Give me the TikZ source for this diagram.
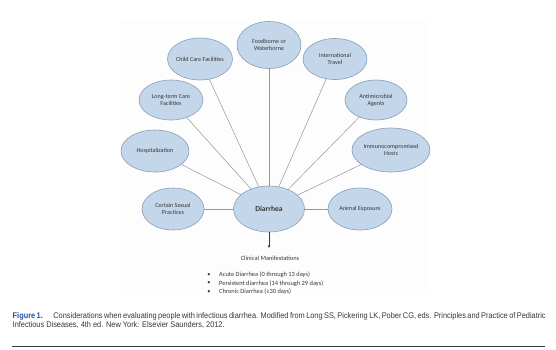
\documentclass[tikz,border=0pt]{standalone}
\usepackage{fontspec}
\setmainfont{Carlito}
\newfontfamily\capfont[FakeStretch=0.9]{Liberation Sans}
\usepackage{tikz}
\usetikzlibrary{arrows.meta,positioning,shapes.geometric}
\usepackage{xcolor}
\definecolor{ink}{RGB}{55,55,55}
\definecolor{bubfill}{RGB}{196,215,234}
\definecolor{bubline}{RGB}{135,158,185}
\definecolor{spokeC}{RGB}{150,150,150}
\definecolor{panel}{RGB}{253,253,253}
\definecolor{figblue}{RGB}{35,80,165}
\tikzset{
  bub/.style={ellipse,draw=bubline,fill=bubfill,line width=0.6pt,inner xsep=-6pt,inner ysep=0pt,
    font=\fontsize{6.1}{7.1}\selectfont,text=ink,align=center},
  spoke/.style={draw=spokeC,line width=0.5pt},
  arr/.style={-{Stealth[length=3pt,width=2.6pt]},line width=0.5pt,ink},
  small/.style={font=\fontsize{6.4}{7.4}\selectfont,text=ink,inner sep=0pt},
}
\begin{document}
\begin{tikzpicture}[x=1pt,y=-1pt]
\useasboundingbox (0,0) rectangle (556,349);
\fill[panel] (121,21) rectangle (430,290);
\node[bub,minimum width=71,minimum height=46,font=\fontsize{7.6}{8.6}\selectfont\bfseries] (dia) at (269,209) {Diarrhea};
\foreach \nm/\x/\y/\w/\h/\lab in {
  food/269/45/64/47/{Foodborne or\\Waterborne},
  child/200/59/65/42/{Child Care Facilities},
  intl/335/59/64/41/{International\\Travel},
  ltc/171/100/64/40/{Long-term Care\\Facilities},
  anti/376/100/62/40/{Antimicrobial\\Agents},
  hosp/155/151/68/42/{Hospitalization},
  immu/391/150/78/44/{Immunocompromised\\Hosts},
  sex/173/209/62/42/{Certain Sexual\\Practices},
  anim/360/209/64/42/{Animal Exposure}}{
  \node[bub,minimum width=\w,minimum height=\h] (\nm) at (\x,\y) {\lab};
  \draw[spoke] (\nm) -- (dia);}
\coordinate (tip) at (269,248);
\draw[arr] (dia.south) -- (tip);
\node[small] (clin) at (270,258) {Clinical Manifestations};
\foreach \i/\t in {1/Acute Diarrhea (0 through 13 days),
  2/Persistent diarrhea (14 through 29 days),
  3/Chronic Diarrhea (≥30 days)}{
  \node[small] (bul\i) at (209,266.5+8.5*\i) {\textbullet};
  \node[small,anchor=west] (item\i) at (219,266.5+8.5*\i) {\t};}
\node[anchor=north west,inner sep=0pt,text width=533pt,align=justify,text=ink,
  font=\capfont\fontsize{8.2}{9.5}\selectfont] (cap) at (12.5,312)
  {{\color{figblue}\bfseries Figure 1.}\hspace{8pt} Considerations when evaluating people with infectious diarrhea. Modified from Long SS, Pickering LK, Pober CG, eds. Principles and Practice of Pediatric\linebreak Infectious Diseases, 4th ed. New York: Elsevier Saunders, 2012.};
\coordinate (ruleL) at (12,346);
\coordinate (ruleR) at (545,346);
\draw[ink,line width=1pt] (ruleL) -- (ruleR);
\end{tikzpicture}
\end{document}
